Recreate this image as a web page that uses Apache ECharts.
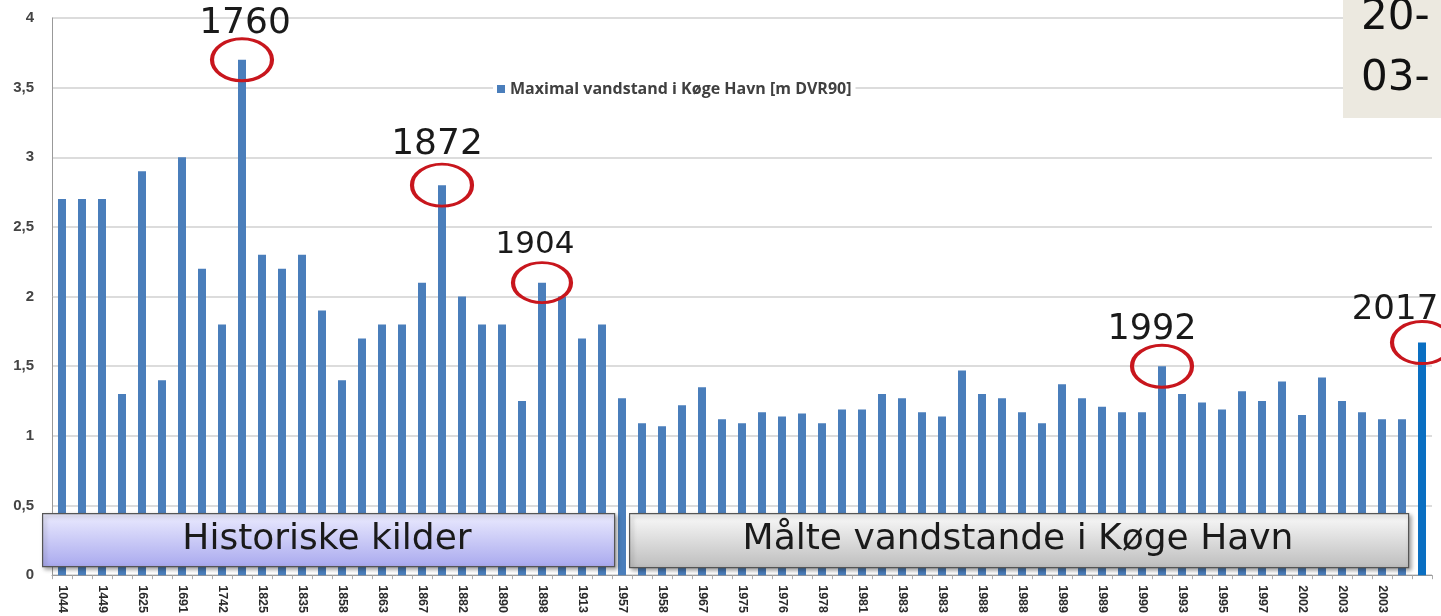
<!DOCTYPE html>
<html>
<head>
<meta charset="utf-8">
<script src="https://cdn.jsdelivr.net/npm/echarts@6/dist/echarts.min.js"></script>
<style>
  html, body { margin: 0; padding: 0; background: #fff; }
  #chart { width: 1441px; height: 616px; }
</style>
</head>
<body>
<div id="chart"></div>
<script>
// tick labels under the bars (only every second bar carries a label)
const xLabels = [
  '1044', '', '1449', '', '1625', '', '1691', '', '1742', '', '1825', '', '1835', '',
  '1858', '', '1863', '', '1867', '', '1882', '', '1890', '', '1898', '', '1913', '',
  '1957', '', '1958', '', '1967', '', '1975', '', '1976', '', '1978', '', '1981', '',
  '1983', '', '1983', '', '1988', '', '1988', '', '1989', '', '1989', '', '1990', '',
  '1993', '', '1995', '', '1997', '', '2002', '', '2003', '', '2003', '', ''
];
// maximal vandstand [m DVR90]
const levels = [
  2.7, 2.7, 2.7, 1.3, 2.9, 1.4, 3.0, 2.2, 1.8, 3.7, 2.3, 2.2, 2.3, 1.9,
  1.4, 1.7, 1.8, 1.8, 2.1, 2.8, 2.0, 1.8, 1.8, 1.25, 2.1, 2.0, 1.7, 1.8,
  1.27, 1.09, 1.07, 1.22, 1.35, 1.12, 1.09, 1.17, 1.14, 1.16, 1.09, 1.19, 1.19, 1.3,
  1.27, 1.17, 1.14, 1.47, 1.3, 1.27, 1.17, 1.09, 1.37, 1.27, 1.21, 1.17, 1.17, 1.5,
  1.3, 1.24, 1.19, 1.32, 1.25, 1.39, 1.15, 1.42, 1.25, 1.17, 1.12, 1.12, 1.67
];
// highlighted years: bar index, label
const highlights = [
  { idx: 9, year: '1760', dx: 3, dy: 8, size: 36, w: 60, h: 42 },
  { idx: 19, year: '1872', dx: -5, dy: 4, size: 36, w: 60, h: 42 },
  { idx: 24, year: '1904', dx: -7, dy: 3, size: 31, w: 58, h: 40 },
  { idx: 55, year: '1992', dx: -10, dy: 8, size: 35, w: 60, h: 42 },
  { idx: 68, year: '2017', dx: -27, dy: 11, size: 34, w: 60, h: 42 }
];
const seriesName = 'Maximal vandstand i Køge Havn [m DVR90]';
const lastIdx = levels.length - 1;

const chart = echarts.init(document.getElementById('chart'));

const barData = levels.map((v, i) => {
  if (i === lastIdx) {
    return { value: v, itemStyle: { color: '#0a6fc2' } };
  }
  return v;
});

const markData = highlights.map((h) => ({
  name: h.year,
  coord: [h.idx, levels[h.idx]],
  symbolSize: [h.w, h.h],
  label: { fontSize: h.size, offset: [h.dx, h.dy] }
}));

function box(x, y, w, h, top, bottom) {
  return {
    type: 'rect',
    left: x, top: y, z: 100,
    shape: { width: w, height: h },
    style: {
      fill: new echarts.graphic.LinearGradient(0, 0, 0, 1, [
        { offset: 0, color: top },
        { offset: 1, color: bottom }
      ]),
      stroke: '#555',
      lineWidth: 1.2,
      shadowBlur: 4,
      shadowOffsetX: 2,
      shadowOffsetY: 2,
      shadowColor: 'rgba(0,0,0,0.35)'
    }
  };
}

function boxText(cx, cy, text, fs) {
  return {
    type: 'text', x: cx, y: cy, z: 101,
    style: {
      text: text,
      font: fs + 'px "DejaVu Sans"',
      fill: '#1a1a1a',
      textAlign: 'center',
      textVerticalAlign: 'middle'
    }
  };
}

const option = {
  animation: false,
  backgroundColor: '#fff',
  grid: { left: 52, top: 18, right: 9, bottom: 40 },
  legend: {
    data: [seriesName],
    left: 493,
    top: 79,
    icon: 'rect',
    itemWidth: 8,
    itemHeight: 8,
    itemGap: 6,
    padding: [2, 4],
    backgroundColor: '#fff',
    textStyle: { fontSize: 16, fontWeight: 'bold', color: '#404040', fontFamily: 'Open Sans' }
  },
  xAxis: {
    type: 'category',
    data: xLabels,
    axisLine: { lineStyle: { color: '#999' } },
    axisTick: { show: true, interval: 0, length: 4, lineStyle: { color: '#aaa' } },
    axisLabel: {
      interval: 0,
      rotate: -90,
      margin: 10,
      fontSize: 12.5,
      fontWeight: 'bold',
      color: '#2a2a2a',
      fontFamily: 'Liberation Sans'
    }
  },
  yAxis: {
    type: 'value',
    min: 0,
    max: 4,
    interval: 0.5,
    axisLine: { show: true, lineStyle: { color: '#999' } },
    axisTick: { show: false },
    splitLine: { lineStyle: { color: '#d0d0d0', width: 1.5 } },
    axisLabel: {
      margin: 18,
      fontSize: 15,
      fontWeight: 'bold',
      color: '#444',
      fontFamily: 'Liberation Sans',
      formatter: (v) => String(v).replace('.', ',')
    }
  },
  series: [{
    name: seriesName,
    type: 'bar',
    data: barData,
    barWidth: 8,
    clip: false,
    itemStyle: { color: '#4a7ebb' },
    markPoint: {
      symbol: 'circle',
      itemStyle: { color: 'rgba(0,0,0,0)', borderColor: '#c8161d', borderWidth: 3.5 },
      label: {
        show: true,
        position: 'top',
        distance: 4,
        formatter: '{b}',
        color: '#1a1a1a',
        fontFamily: 'DejaVu Sans'
      },
      data: markData
    }
  }],
  graphic: [
    box(42, 513, 572, 53, '#ececff', '#a9a9ee'),
    boxText(327, 540, 'Historiske kilder', 36),
    box(629, 513, 779, 54, '#fbfbfb', '#bdbdbd'),
    boxText(1018, 540, 'Målte vandstande i Køge Havn', 36),
    {
      type: 'rect', left: 1343, top: 0, z: 100,
      shape: { width: 98, height: 118 },
      style: { fill: '#ece9e0' }
    },
    {
      type: 'text', left: 1361, top: -3, z: 101,
      style: { text: '20-', font: '42px "DejaVu Sans"', fill: '#111' }
    },
    {
      type: 'text', left: 1361, top: 58, z: 101,
      style: { text: '03-', font: '42px "DejaVu Sans"', fill: '#111' }
    }
  ]
};

chart.setOption(option);
</script>
</body>
</html>
